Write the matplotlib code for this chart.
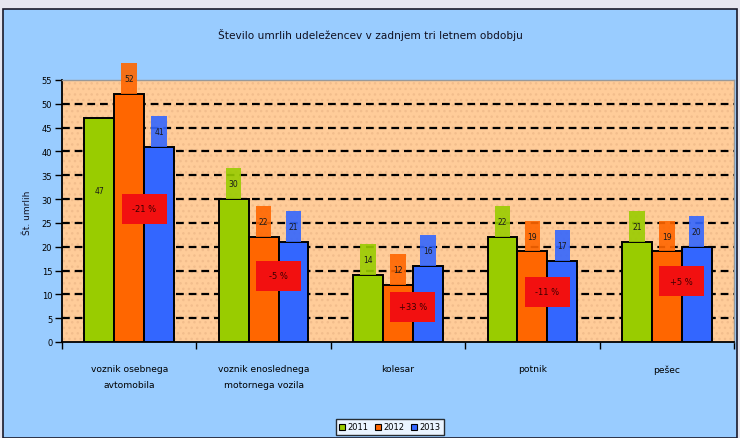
import matplotlib
matplotlib.use("Agg")
import matplotlib.pyplot as plt
from matplotlib.patches import Rectangle
import numpy as np

categories = ["voznik osebnega\navtomobila", "voznik enoslednega\nmotornega vozila",
              "kolesar", "potnik", "pešec"]
years = ["2011", "2012", "2013"]
v2011 = [47, 30, 14, 22, 21]
v2012 = [52, 22, 12, 19, 19]
v2013 = [41, 21, 16, 17, 20]
pct_labels = ["-21 %", "-5 %", "+33 %", "-11 %", "+5 %"]

title = "Število umrlih udeležencev v zadnjem tri letnem obdobju"
ylabel = "Št. umrlih"

colors = ["#99CC00", "#FF6600", "#3366FF"]
pct_y = [28, 13.9, 7.4, 10.6, 12.8]   # annotation placement
special_label_center = {(0, 0): 31.7}  # label drawn inside bar

W, H = 740, 439
fig = plt.figure(figsize=(W / 100, H / 100), dpi=100)
fig.patch.set_facecolor("#E6E6F0")
fig.patches.append(Rectangle((3 / W, 0), (734) / W, (H - 10) / H, transform=fig.transFigure,
                             facecolor="#99CCFF", edgecolor="#1A1A2A", linewidth=1.2, zorder=-10))

ax = fig.add_axes([62 / W, 1 - 343 / H, (734 - 62) / W, (343 - 81) / H])
ax.set_zorder(1)
ax.set_facecolor("#FFCC99")
ax.add_patch(Rectangle((0, 0), 1, 1, transform=ax.transAxes, facecolor="none",
                       edgecolor="#F2BD8C", hatch="...", linewidth=0, zorder=0))

series = [v2011, v2012, v2013]
x = np.arange(len(categories))
w = 0.222
for k, vals in enumerate(series):
    ax.bar(x + (k - 1) * w, vals, width=w, color=colors[k], edgecolor="black",
           linewidth=1.4, zorder=3, label=years[k])

ax.set_xlim(-0.5, len(categories) - 0.5)
ax.set_ylim(0, 55)
ax.set_yticks(np.arange(0, 56, 5))
ax.tick_params(axis="y", labelsize=6, length=5, width=1, direction="out", pad=2)
ax.set_xticks(np.arange(-0.5, len(categories), 1.0))
ax.set_xticklabels([])
ax.tick_params(axis="x", length=5, width=1, direction="out")
ax.set_xticks(x, minor=True)
ax.set_xticklabels(categories, minor=True, fontsize=6.6, linespacing=1.9)
ax.tick_params(axis="x", which="minor", length=0, pad=16)

for yv in range(5, 55, 5):
    ax.axhline(yv, color="black", linewidth=1.6, dashes=(3.5, 2.2), zorder=1)

for s in ["left", "bottom"]:
    ax.spines[s].set_color("black")
    ax.spines[s].set_linewidth(1.3)
for s in ["top", "right"]:
    ax.spines[s].set_color("#999999")
    ax.spines[s].set_linewidth(1.0)

# value labels
bw = 0.115
bh = 6.5
for k, vals in enumerate(series):
    for i, v in enumerate(vals):
        cx = x[i] + (k - 1) * w
        if (i, k) in special_label_center:
            cy = special_label_center[(i, k)]
        else:
            cy = v + bh / 2
        ax.add_patch(Rectangle((cx - bw / 2, cy - bh / 2), bw, bh, facecolor=colors[k],
                               edgecolor="none", zorder=4, clip_on=False, alpha=0.9))
        ax.text(cx, cy, str(v), ha="center", va="center", fontsize=5.5,
                color="#1A1A1A", zorder=5, clip_on=False)

# percent change boxes
pw, ph = 0.336, 6.3
for i, lab in enumerate(pct_labels):
    cx = x[i] + w / 2
    cy = pct_y[i]
    ax.add_patch(Rectangle((cx - pw / 2, cy - ph / 2), pw, ph, facecolor="#F21010",
                           edgecolor="none", zorder=6))
    ax.text(cx, cy, lab, ha="center", va="center", fontsize=6, color="#3A0000", zorder=7)

fig.text(370 / W, 1 - 35 / H, title, ha="center", va="center", fontsize=7.6, color="#101020")
fig.text(28 / W, 1 - 213 / H, ylabel, rotation=90, ha="center", va="center", fontsize=6.5,
         color="#101020")

leg = fig.legend(loc="center", bbox_to_anchor=(390 / W, 1 - 428 / H), ncol=3, fontsize=6,
                 frameon=True, fancybox=False, edgecolor="black", handlelength=0.7,
                 handleheight=0.7, handletextpad=0.3, columnspacing=0.8, borderpad=0.4)
leg.get_frame().set_linewidth(1.0)
for h in leg.legend_handles:
    h.set_linewidth(0.8)

fig.savefig("out.png", dpi=100, facecolor=fig.get_facecolor())
